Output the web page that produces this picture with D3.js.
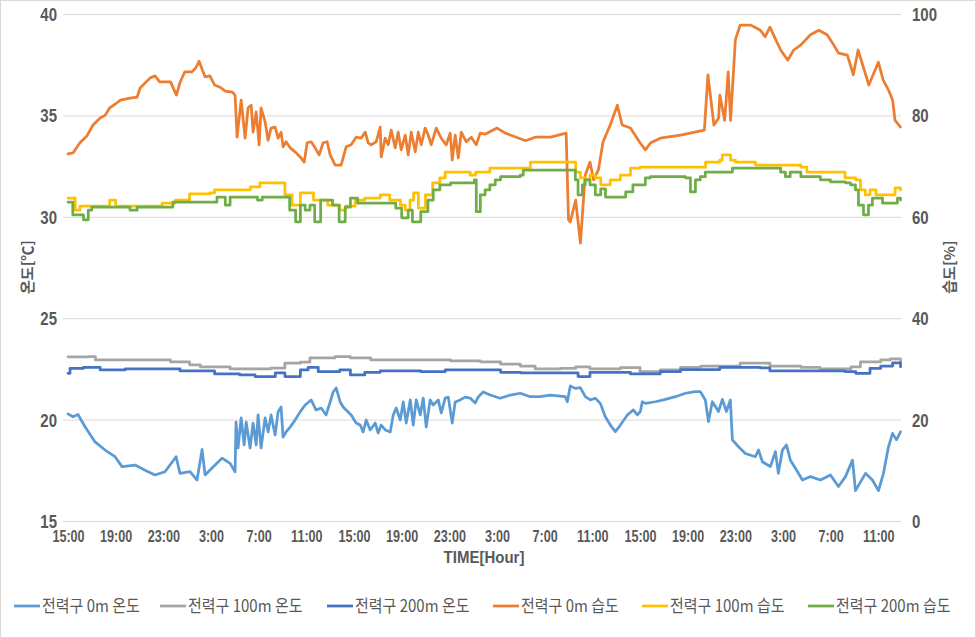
<!DOCTYPE html>
<html><head><meta charset="utf-8">
<script src="https://cdn.jsdelivr.net/npm/d3@7/dist/d3.min.js"></script>
<style>
body{margin:0;background:#fff}
svg{display:block}
.num{font-family:"Liberation Sans","Arial",sans-serif;font-weight:bold;fill:#595959}
.kr{font-family:"Noto Sans CJK KR","Noto Sans",sans-serif;fill:#595959}
</style>
</head><body>
<svg id="chart" width="976" height="638"></svg>
<script>
// ---------- DATA ----------
const xTickHours = [0,4,8,12,16,20,24,28,32,36,40,44,48,52,56,60,64,68];
const xTickLabels = ["15:00","19:00","23:00","3:00","7:00","11:00","15:00","19:00","23:00","3:00","7:00","11:00","15:00","19:00","23:00","3:00","7:00","11:00"];
const tempTicks = [15,20,25,30,35,40];
const humTicks = [0,20,40,60,80,100];
const seriesNames = ["전력구 0m 온도","전력구 100m 온도","전력구 200m 온도","전력구 0m 습도","전력구 100m 습도","전력구 200m 습도"];
const seriesColors = ["#5B9BD5","#A5A5A5","#4472C4","#ED7D31","#FFC000","#70AD47"];

// [hour since 15:00 day 1, value]
const temp0m = [[0,20.28],[0.42,20.14],[0.84,20.25],[1.43,19.65],[2.27,18.9],[3.11,18.5],[3.95,18.17],[4.53,17.68],[5.63,17.76],[6.47,17.5],[7.3,17.27],[8.14,17.43],[9.07,18.17],[9.4,17.35],[10.24,17.43],[10.83,17.02],[11.25,18.53],[11.5,17.27],[12.34,17.76],[12.93,18.1],[13.6,17.84],[14.02,17.43],
 [14.1,19.88],[14.27,18.6],[14.53,20.08],[14.78,18.75],[14.95,19.88],[15.28,18.6],[15.53,19.83],[15.79,18.75],[15.95,20.23],[16.2,18.6],[16.54,20.08],[16.79,19.39],[17.04,20.23],[17.38,19.24],[17.63,20.38],[17.88,20.62],[18.05,19.14],[18.3,19.39],[18.64,19.63],[19.06,19.98],[19.48,20.38],[19.9,20.72],[20.4,20.97],[20.82,20.47],[21.24,20.57],[21.66,20.23],[22.0,20.87],[22.25,21.36],[22.5,21.56],[22.84,20.87],[23.09,20.62],[23.34,20.47],[23.76,20.23],[24.18,19.83],[24.52,19.73],[24.77,19.39],[25.02,19.98],[25.36,19.49],[25.78,19.83],[26.03,19.34],[26.28,19.73],[26.62,19.49],[27.04,19.39],[27.29,20.23],[27.54,20.57],[27.88,19.98],[28.13,20.87],[28.38,19.83],[28.72,20.97],[28.97,19.73],[29.22,20.97],[29.56,20.23],[29.81,21.06],[30.06,19.63],[30.39,20.97],[30.65,20.72],[31.07,20.97],[31.32,20.33],[31.65,21.06],[31.91,21.11],[32.24,19.83],[32.49,20.87],[32.91,20.97],[33.33,21.11],[33.75,21.06],[34.17,20.82],[34.42,21.11],[34.84,21.36],
 [35.43,21.21],[36.27,21.05],[37.11,21.21],[37.95,21.3],[38.79,21.13],[39.63,21.13],[40.47,21.21],[41.73,21.13],[41.9,20.88],[42.15,21.66],[42.57,21.54],[42.99,21.58],[43.41,21.13],[43.83,20.97],[44.25,21.05],[44.67,20.8],[45.09,20.14],[45.51,19.73],[45.93,19.4],[46.35,19.73],[46.94,20.23],[47.44,20.48],[47.78,20.23],[48.03,20.4],[48.19,20.88],[48.45,20.8],[49.29,20.88],[50.13,21.0],[50.97,21.13],[51.81,21.3],[52.65,21.38],[53.06,21.38],[53.48,20.97],[53.74,19.9],[54.07,20.88],[54.58,20.4],[54.91,21.0],[55.25,20.4],[55.58,20.97],[55.75,19.0],[56.26,18.66],[56.84,18.33],[57.68,18.17],[57.94,18.5],[58.27,17.92],[58.94,17.68],[59.36,18.42],[59.61,17.35],[59.95,18.5],[60.29,18.75],[60.62,18.0],[61.04,17.6],[61.63,17.02],[62.3,17.19],[63.14,17.02],[63.98,17.27],[64.65,16.7],[65.24,17.19],[65.83,18.0],[66.08,16.5],[66.92,17.35],[67.5,17.02],[68.01,16.5],[68.43,17.35],[68.85,18.66],[69.19,19.32],[69.52,19.0],[69.86,19.4]];

const temp100m = [[0,23.09],[1.7,23.1],[2.3,22.94],[8.6,22.85],[10.2,22.7],[11.1,22.6],[13.6,22.5],[17.0,22.54],[18.2,22.78],[19.5,22.84],[20.3,23.04],[22.4,23.1],[23.7,23.04],[25.4,22.94],[29.6,22.94],[32.1,22.9],[34.6,22.85],[36.3,22.74],[37.95,22.64],[39.2,22.5],[41.3,22.52],[42.6,22.6],[43.8,22.5],[46.35,22.56],[48.0,22.36],[49.7,22.45],[51.4,22.58],[53.1,22.64],[56.4,22.78],[58.9,22.64],[61.5,22.58],[63.1,22.5],[65.7,22.6],[66.5,22.85],[68.2,22.94],[69.0,23.0],[69.86,22.8]];

const temp200m = [[0,22.28],[0.17,22.53],[1.3,22.58],[2.7,22.45],[4.8,22.5],[8.1,22.5],[9.4,22.4],[12.3,22.25],[14.4,22.2],[15.7,22.12],[17.4,22.3],[18.2,22.12],[19.5,22.45],[20.15,22.58],[21.0,22.36],[22.8,22.45],[23.7,22.2],[24.9,22.33],[26.2,22.4],[29.6,22.36],[31.65,22.45],[33.75,22.45],[36.3,22.33],[38.0,22.3],[41.3,22.3],[42.8,22.12],[43.8,22.33],[47.2,22.25],[49.7,22.36],[51.4,22.47],[54.7,22.58],[58.1,22.55],[58.9,22.4],[65.2,22.36],[66.1,22.28],[67.3,22.53],[68.2,22.64],[69.2,22.8],[69.86,22.6]];

const hum0m = [[0,72.4],[0.42,72.6],[1.0,74.6],[1.6,76],[2.1,78.1],[2.7,79.5],[3.1,80],[3.5,81.5],[3.95,82.2],[4.4,83],[5.2,83.4],[5.8,83.6],[6.05,85.4],[6.9,87.4],[7.3,87.8],[7.7,86.6],[8.6,86.6],[9.1,84],[9.4,86.5],[9.8,88.6],[10.4,88.6],[10.7,89.3],[11.0,90.7],[11.5,87.6],[11.9,87.8],[12.3,86],[12.8,85.5],[13.2,84.8],[13.8,84.6],
 [14.02,84],[14.19,75.7],[14.53,83],[14.86,75.5],[15.11,81.5],[15.37,82],[15.53,76.7],[15.79,80.7],[16.04,74.2],[16.2,81.5],[16.54,78.7],[16.79,75.1],[17.04,77.5],[17.38,77.7],[17.63,75.5],[17.88,76.7],[18.05,73.8],[18.3,74.8],[18.64,73.6],[19.06,72.8],[19.48,71.8],[19.82,70.8],[20.07,74.6],[20.4,74.8],[20.74,73.6],[21.07,72.2],[21.41,74.6],[21.75,74.8],[22.0,72.2],[22.42,70.2],[22.92,70.2],[23.34,73.8],[23.76,74.2],[24.18,75.7],[24.6,75.5],[24.94,76.7],[25.19,74.6],[25.44,74.2],[25.86,74.8],[26.2,77.7],[26.28,71.8],[26.62,75.5],[26.87,74.2],[27.12,77.1],[27.46,73.6],[27.71,76.7],[27.96,73.2],[28.3,76.1],[28.55,72.2],[28.8,76.7],[29.14,72.8],[29.39,76.7],[29.64,74.2],[29.97,77.5],[30.23,76.1],[30.48,74.2],[30.9,77.5],[31.32,75.5],[31.74,74.2],[32.07,76.5],[32.24,71.2],[32.49,76.1],[32.75,71.6],[33.0,76.7],[33.42,74.8],[33.84,75.7],[34.26,74.2],[34.59,76.5],
 [35.0,76.3],[36.0,77.5],[36.7,76.5],[38.4,75],[39.2,75.7],[40.5,75.7],[41.8,76.5],[42.0,59.4],[42.15,59],[42.6,63.3],[43.0,54.8],[43.4,68.2],[43.8,70.8],[44.1,67.3],[44.5,69.2],[44.9,74.8],[45.5,78.1],[46.1,82],[46.5,78.1],[47.2,77.5],[48.0,74.6],[48.45,73.2],[48.9,74.6],[49.7,75.5],[51.4,76.1],[52.2,76.5],[53.4,77.1],[53.7,88],[54.2,78.1],[54.6,79.5],[54.7,84],[55.1,79],[55.4,88.6],[55.6,79],[56.0,94.9],[56.4,97.8],[57.3,97.8],[58.1,96.8],[58.5,95.5],[58.9,97.4],[59.4,94.9],[59.8,92.9],[60.4,90.9],[60.9,92.9],[61.5,93.9],[62.3,95.9],[63.0,96.8],[63.7,95.9],[64.15,94.3],[64.65,92.3],[65.4,91.9],[65.9,88],[66.3,92.9],[67.2,86],[68.0,90.5],[68.4,87],[68.85,85],[69.2,83],[69.4,79],[69.86,77.7]];

const hum100m = [[0,63.7],[0.6,61.3],[1.0,62.1],[3.5,63.3],[4.0,62.1],[7.9,62.7],[9.0,63.3],[10.2,64.5],[11.9,64.7],[12.3,65.3],[15.3,65.9],[16.1,66.7],[18.2,64.3],[18.8,62.3],[19.5,64.7],[20.6,63.3],[21.8,62.3],[22.8,61.3],[23.3,62.1],[24.1,63.3],[24.9,63.7],[26.2,64.3],[27.0,63.3],[27.9,62.3],[28.3,61.3],[28.7,63.3],[29.0,64.7],[29.4,61.7],[30.0,64.3],[30.6,66.7],[31.2,67.7],[31.65,68.8],[33.75,68.2],[34.2,68.8],[35.4,69.6],[38.8,70.8],[42.0,70.8],[42.6,68.8],[43.0,67.7],[43.4,67.3],[43.8,68.2],[44.25,67.7],[44.7,66.3],[45.5,67.3],[46.35,68.2],[47.2,69.6],[48.0,69.8],[53.5,70.8],[54.7,71.2],[54.9,72.2],[55.6,71.2],[56.0,70.8],[57.7,70.2],[61.5,69.8],[62.0,68.8],[65.2,67.7],[66.1,67.3],[66.5,65.3],[66.9,64.3],[67.3,65.3],[67.8,64.3],[69.4,65.7],[69.86,65.3]];

const hum200m = [[0,62.9],[0.4,60.4],[1.3,59.4],[1.7,61.3],[2.0,61.9],[5.2,61.3],[5.8,61.9],[8.8,62.9],[12.5,63.9],[13.2,62.3],[13.6,63.9],[15.9,63.3],[16.3,63.9],[18.6,61.3],[19.1,59],[19.5,62.3],[19.9,61.3],[20.3,62.3],[20.7,59],[21.2,63.3],[22.2,62.3],[22.75,59],[23.26,61.9],[23.7,63.7],[24.3,62.7],[27.5,61.7],[28.0,59.8],[28.55,61.3],[28.9,59],[29.6,61],[30.2,63.3],[30.65,65.3],[31.2,66.3],[32.1,66.7],[34.1,67.3],[34.26,61],[34.6,64.3],[35.0,65.3],[35.4,66.3],[35.85,67.3],[36.3,67.9],[37.95,68.2],[38.2,69.2],[41.9,69.2],[42.57,67.3],[42.8,64.3],[43.16,66.3],[43.4,67.3],[43.8,66.3],[44.25,64.3],[44.7,65.5],[45.1,63.9],[46.8,64.9],[47.4,66.3],[48.45,67.7],[48.87,67.9],[51.81,67.7],[52.23,64.9],[52.65,67.3],[53.06,67.9],[53.48,68.8],[55.75,69.6],[59.8,68.8],[60.2,67.9],[60.6,68.8],[61.5,67.9],[63.14,67.3],[63.98,66.9],[65.24,66.7],[65.66,66.3],[66.08,65.3],[66.33,62.3],[66.75,60.4],[67.17,62.3],[67.5,63.7],[68.35,62.7],[69.6,63.7],[69.86,63.3]];

// ---------- CHART ----------
const svg = d3.select("#chart");
const W = 976, H = 638;
const plot = {left:63, right:901, top:14, bottom:521};

svg.append("rect").attr("x",0.5).attr("y",0.5).attr("width",W-1).attr("height",H-1)
  .attr("fill","#fff").attr("stroke","#d9d9d9");

const x = d3.scaleLinear().domain([-0.42, 69.9]).range([plot.left, plot.right]);
const yT = d3.scaleLinear().domain([15,40]).range([plot.bottom, plot.top]);
const yH = d3.scaleLinear().domain([0,100]).range([plot.bottom, plot.top]);

// gridlines
const gg = svg.append("g").attr("transform",`translate(${plot.left},0)`)
  .call(d3.axisLeft(yT).tickValues(tempTicks).tickSize(-(plot.right-plot.left)).tickFormat(""));
gg.select(".domain").remove();
gg.selectAll("line").attr("stroke","#d9d9d9").attr("stroke-width",1);

// left axis labels
const la = svg.append("g").attr("transform",`translate(${plot.left-6},0)`)
  .call(d3.axisLeft(yT).tickValues(tempTicks).tickSize(0).tickPadding(0));
la.select(".domain").remove();
la.selectAll("text").attr("class","num").style("font-size","15px").attr("dy","0.36em")
  .attr("transform","scale(1,1.2)");

// right axis labels
const ra = svg.append("g").attr("transform",`translate(${plot.right+11},0)`)
  .call(d3.axisRight(yH).tickValues(humTicks).tickSize(0).tickPadding(0));
ra.select(".domain").remove();
ra.selectAll("text").attr("class","num").style("font-size","15px").attr("dy","0.36em")
  .attr("transform","scale(1,1.2)");

// x axis labels
const xa = svg.append("g").attr("transform",`translate(0,${plot.bottom+9})`)
  .call(d3.axisBottom(x).tickValues(xTickHours).tickSize(0).tickPadding(0)
    .tickFormat((d,i)=>xTickLabels[i]));
xa.select(".domain").remove();
xa.selectAll("text").attr("class","num").style("font-size","14px").attr("dy","0.71em")
  .attr("transform","scale(0.9,1.2)");

// axis titles
svg.append("text").attr("class","num")
  .attr("transform",`translate(${(plot.left+plot.right)/2+2},563) scale(1,1.15)`)
  .attr("text-anchor","middle").style("font-size","15px").text("TIME[Hour]");
svg.append("text").attr("class","kr").attr("transform","translate(33,267) rotate(-90)")
  .attr("text-anchor","middle").style("font-size","15px").style("font-weight","bold").text("온도[℃]");
svg.append("text").attr("class","kr").attr("transform","translate(955,267) rotate(-90)")
  .attr("text-anchor","middle").style("font-size","15px").style("font-weight","bold").text("습도[%]");

// lines
const lineT = d3.line().x(d=>x(d[0])).y(d=>yT(d[1]));
const lineTStep = d3.line().x(d=>x(d[0])).y(d=>yT(d[1])).curve(d3.curveStepAfter);
const lineH = d3.line().x(d=>x(d[0])).y(d=>yH(d[1]));
const lineHStep = d3.line().x(d=>x(d[0])).y(d=>yH(d[1])).curve(d3.curveStepAfter);

[ {data:temp0m, gen:lineT, c:0},
  {data:temp100m, gen:lineTStep, c:1},
  {data:temp200m, gen:lineTStep, c:2},
  {data:hum0m, gen:lineH, c:3},
  {data:hum100m, gen:lineHStep, c:4},
  {data:hum200m, gen:lineHStep, c:5}
].forEach(s=>{
  svg.append("path").datum(s.data).attr("d",s.gen)
    .attr("fill","none").attr("stroke",seriesColors[s.c])
    .attr("stroke-width",2.75).attr("stroke-linejoin","round").attr("stroke-linecap","round");
});

// legend
const legX = [14,160,327,493,642,808];
const lg = svg.append("g");
seriesNames.forEach((n,i)=>{
  lg.append("line").attr("x1",legX[i]).attr("x2",legX[i]+26).attr("y1",606).attr("y2",606)
    .attr("stroke",seriesColors[i]).attr("stroke-width",2.75);
  lg.append("text").attr("class","kr")
    .attr("transform",`translate(${legX[i]+28},606) scale(1,1.12)`)
    .attr("dy","0.36em").style("font-size","15px").text(n);
});
</script>
</body></html>
